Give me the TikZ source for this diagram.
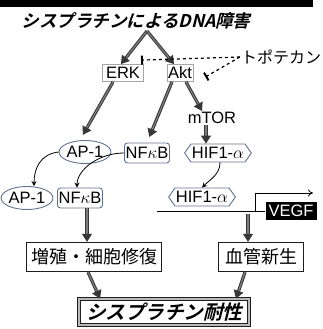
\documentclass[tikz,border=0pt]{standalone}
\usepackage{fontspec}
\setmainfont{Liberation Sans}
\newfontfamily\jp{Noto Sans CJK JP}
\newfontfamily\jpbi[FakeSlant=0.25]{Noto Sans CJK JP Bold}
\usepackage{tikz}
\usetikzlibrary{shapes.geometric, shapes.symbols, arrows.meta, positioning}
\definecolor{mydark}{RGB}{30,30,30}
\definecolor{mygray}{RGB}{165,165,165}
\definecolor{myslate}{RGB}{95,115,145}
\definecolor{fatgray}{RGB}{55,55,55}
\definecolor{fatcore}{RGB}{125,125,125}
\newcommand{\lblfont}{\fontsize{16.5}{17}\selectfont}
\tikzset{
  kinase/.style={rectangle, draw=mygray, line width=0.8pt,
    minimum height=17, inner sep=1pt, font=\lblfont},
  factor/.style={rectangle, draw=myslate, rounded corners=3pt,
    minimum width=45, minimum height=20, inner sep=1pt,
    line width=0.9pt, font=\lblfont},
  factorell/.style={ellipse, draw=myslate, minimum width=45,
    minimum height=23, inner sep=0pt, line width=0.9pt, font=\lblfont},
  hexa/.style={signal, signal to=west and east, signal pointer angle=110,
    draw=myslate, minimum height=18, inner sep=1pt,
    line width=0.9pt, font=\lblfont},
  outcome/.style={rectangle, draw=mydark, line width=1.3pt,
    minimum height=29, inner sep=2pt, font=\jp\fontsize{18}{18}\selectfont},
  resistbox/.style={rectangle, draw=mydark, double=gray!55,
    double distance=1.6pt, line width=0.8pt, minimum width=170,
    minimum height=26, font=\jpbi\fontsize{19.5}{20}\selectfont},
  titletext/.style={inner sep=0pt, font=\jpbi\fontsize{17.5}{18}\selectfont},
  vegfbox/.style={rectangle, fill=black, text=white, minimum width=51,
    minimum height=18, inner sep=1pt, font=\lblfont},
  fatarrow/.style={draw=fatgray, double=fatcore, double distance=1.2pt,
    line width=1pt, -{Triangle[length=8pt, width=10pt]}},
  thinarrow/.style={-{Stealth[length=5pt, width=5pt]}, line width=0.8pt, color=black},
  inhibit/.style={dashed, line width=1.2pt, -{Bar[width=9pt, line width=2pt]}}
}

\begin{document}
\begin{tikzpicture}[x=1pt, y=-1pt]
  \useasboundingbox (0,0) rectangle (323,329);
  % Header bar (cut off)
  \fill[black] (0,0) rectangle (313,7);

  % Title
  \node[titletext] (title) at (136,21) {シスプラチンによるDNA障害};
  \coordinate (split) at (147,31);

  % Kinases
  \node[kinase, minimum width=41] (erk) at (123,73) {ERK};
  \node[kinase, minimum width=26] (akt) at (180,73) {Akt};
  \node[font=\jp\fontsize{16}{16}\selectfont, inner sep=1pt] (topo) at (281,57) {トポテカン};

  \draw[fatarrow] (split) -- ([xshift=-2pt]erk.north);
  \draw[fatarrow] (split) -- ([xshift=-6pt]akt.north);

  % Topotecan inhibition
  \draw[inhibit] (topo.west) -- ([xshift=18pt, yshift=4pt]erk.north);
  \draw[inhibit] (topo.west) -- ([xshift=12pt, yshift=-4pt]akt.east);

  % Transcription factors
  \node[factorell] (ap1A) at (85,152) {AP-1};
  \node[factor] (nfkbA) at (147,153) {NF$\kappa$B};
  \node[inner sep=1pt, font=\lblfont] (mtor) at (212,118) {mTOR};
  \node[hexa] (hifA) at (218,153) {HIF1-$\alpha$};

  \draw[fatarrow, shorten >=6pt] ([xshift=-10pt]erk.south) -- ([xshift=-5pt]ap1A.north);
  \draw[fatarrow, shorten >=6pt] ([xshift=-8pt]akt.south) -- (nfkbA.north);
  \draw[fatarrow] ([xshift=6pt]akt.south) -- ([xshift=-10pt]mtor.north);
  \draw[fatarrow] ([xshift=-6pt]mtor.south) -- ([xshift=-12pt]hifA.north);

  % Nuclear forms
  \node[factorell] (ap1B) at (27,198) {AP-1};
  \node[factor] (nfkbB) at (80,198) {NF$\kappa$B};
  \node[hexa, minimum width=54] (hifB) at (202,197) {HIF1-$\alpha$};

  \draw[thinarrow] (ap1A.west) .. controls +(-18,2) and +(0,-18) .. ([xshift=7pt]ap1B.north);
  \draw[thinarrow] (nfkbA.west) .. controls +(-25,0) and +(0,-18) .. ([xshift=-3pt]nfkbB.north);
  \draw[thinarrow] ([xshift=2pt]hifA.south) .. controls +(0,12) and +(8,-8) .. (hifB.north);

  % VEGF gene
  \node[vegfbox] (vegf) at (291,211) {VEGF};
  \coordinate (dnaL) at (157,211);
  \coordinate (tss) at (255,211);
  \coordinate (vegfsrc) at (248,214);
  \draw[line width=1pt] (dnaL) -- (vegf.west);
  \draw[line width=0.8pt, -{To[length=5pt, width=7pt]}] (tss) -- ++(0,-18) -- ++(58,0);

  % Outcomes
  \node[outcome, minimum width=135] (growth) at (94,257) {増殖・細胞修復};
  \node[outcome, minimum width=85] (angio) at (261,257) {血管新生};
  \node[resistbox] (resist) at (164,312) {シスプラチン耐性};

  \draw[fatarrow] ([xshift=7pt]nfkbB.south) -- ([xshift=-7pt]growth.north);
  \draw[fatarrow] (vegfsrc) -- (vegfsrc |- angio.north);
  \draw[fatarrow] ([xshift=-6pt]growth.south) -- ([xshift=-64pt]resist.north);
  \draw[fatarrow] ([xshift=-16pt]angio.south) -- ([xshift=72pt]resist.north);
\end{tikzpicture}
\end{document}
